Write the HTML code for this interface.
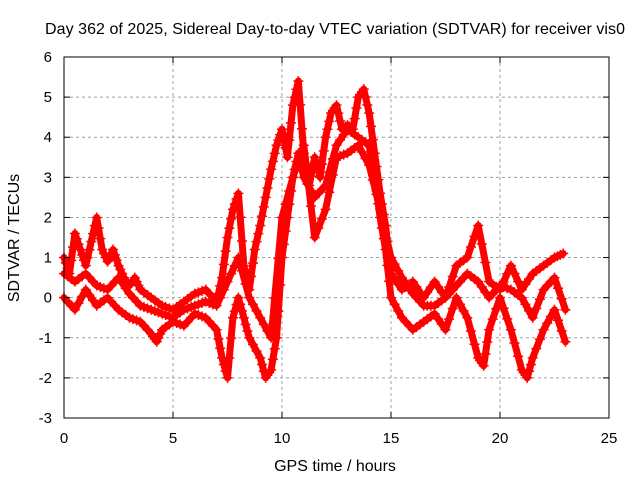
<!DOCTYPE html>
<html><head><meta charset="utf-8"><style>
body{margin:0;background:#fff}
svg text{font-family:"Liberation Sans",sans-serif;font-size:15px;fill:#000}
svg text.big{font-size:16px}
</style></head><body>
<svg id="chart" width="640" height="480">
<rect x="0" y="0" width="640" height="480" fill="#fff"/>
<text class="big" x="335" y="34" text-anchor="middle" textLength="580">Day 362 of 2025, Sidereal Day-to-day VTEC variation (SDTVAR) for receiver vis0</text>
<text class="big" x="335" y="471" text-anchor="middle">GPS time / hours</text>
<text class="big" transform="translate(19,238) rotate(-90)" text-anchor="middle">SDTVAR / TECUs</text>
<g id="grid"></g><g id="series"></g>
<rect x="64" y="57" width="545" height="361" fill="none" stroke="#000" stroke-width="1"/>
<g id="ticks"></g>
</svg>
<script>
const xTicks=[0,5,10,15,20,25];
const yTicks=[-3,-2,-1,0,1,2,3,4,5,6];
const s1t=[0,0.25,0.5,0.75,1,1.25,1.5,1.75,2,2.25,2.5,2.75,3,3.25,3.5,4,4.5,5,5.5,6,6.5,7,7.25,7.5,7.75,8,8.25,8.5,8.75,9,9.25,9.5,9.75,10,10.25,10.5,10.75,11,11.25,11.5,11.75,12,12.25,12.5,12.75,13,13.25,13.5,13.75,14,14.25,14.5,14.75,15,15.5,16,16.5,17,17.5,18,18.5,19,19.5,20,20.5,21,21.5,22,22.5,22.9];
const s1v=[1.0,0.6,1.6,1.2,0.8,1.4,2.0,1.2,0.9,1.2,0.8,0.5,0.3,0.5,0.2,0.0,-0.2,-0.3,-0.1,0.1,0.2,-0.1,0.5,1.5,2.2,2.6,0.8,0.2,1.2,1.8,2.5,3.2,3.8,4.2,3.5,4.8,5.4,3.6,2.8,3.5,3.0,4.0,4.6,4.8,4.2,4.3,4.2,5.0,5.2,4.6,3.6,2.6,1.8,0.6,0.2,0.4,0.0,0.4,0.0,0.8,1.0,1.8,0.4,0.2,0.8,0.2,0.6,0.8,1.0,1.1];
const s2t=[0,0.5,1,1.5,2,2.5,3,3.5,4,4.25,4.5,5,5.5,6,6.5,7,7.25,7.5,7.75,8,8.25,8.5,9,9.25,9.5,9.75,10,10.25,10.5,10.75,11,11.5,12,12.5,13,13.5,14,14.25,14.5,14.75,15,15.5,16,16.5,17,17.5,18,18.5,19,19.25,19.5,20,20.5,21,21.25,21.5,22,22.5,23];
const s2v=[0.0,-0.3,0.2,-0.2,0.0,-0.3,-0.5,-0.6,-0.9,-1.1,-0.8,-0.6,-0.7,-0.4,-0.5,-0.8,-1.5,-2.0,-0.5,0.0,-0.5,-1.0,-1.5,-2.0,-1.8,-1.0,1.0,2.0,3.0,3.6,3.0,2.5,2.8,3.8,4.2,4.0,3.8,3.0,2.0,1.2,0.0,-0.5,-0.8,-0.6,-0.4,-0.8,0.0,-0.5,-1.5,-1.7,-0.8,0.0,-0.8,-1.8,-2.0,-1.5,-0.8,-0.3,-1.1];
const s3t=[0,0.5,1,1.5,2,2.5,3,3.5,4,4.5,5,5.5,6,6.5,7,7.5,8,8.5,9,9.5,10,10.5,11,11.5,12,12.5,13,13.5,14,14.5,15,15.5,16,16.5,17,17.5,18,18.5,19,19.5,20,20.5,21,21.5,22,22.5,23];
const s3v=[0.6,0.4,0.6,0.3,0.2,0.5,0.1,-0.2,-0.3,-0.4,-0.5,-0.3,-0.2,-0.1,-0.2,0.4,1.0,0.0,-0.5,-1.0,2.0,3.0,3.8,1.5,2.2,3.5,3.6,3.8,3.3,2.2,1.0,0.5,0.1,-0.2,-0.2,0.0,0.3,0.6,0.4,0.0,0.3,0.2,0.0,-0.5,0.2,0.5,-0.3];
const X0=64,X1=609,Y0=418,Y1=57;
const xs=v=>X0+(v-0)/(25-0)*(X1-X0);
const ys=v=>Y0-(v-(-3))/(6-(-3))*(Y0-Y1);
const NS='http://www.w3.org/2000/svg';
function mk(tag,attrs,parent){const e=document.createElementNS(NS,tag);for(const k in attrs)e.setAttribute(k,attrs[k]);parent.appendChild(e);return e;}
const grid=document.getElementById('grid'),ticks=document.getElementById('ticks'),ser=document.getElementById('series');
xTicks.forEach(t=>{const x=xs(t);
 if(t>0&&t<25){const g=mk('line',{x1:x,x2:x,y1:Y1,y2:Y0,stroke:'#a0a0a0','stroke-dasharray':'3,3'},grid);
 
 }
 mk('line',{x1:x,x2:x,y1:Y0,y2:Y0-6,stroke:'#000'},ticks);mk('line',{x1:x,x2:x,y1:Y1,y2:Y1+6,stroke:'#000'},ticks);
 const l=mk('text',{x:x,y:Y0+25,'text-anchor':'middle'},ticks);l.textContent=t;
 
 });
yTicks.forEach(t=>{const y=ys(t);
 if(t>-3&&t<6){const g=mk('line',{x1:X0,x2:X1,y1:y,y2:y,stroke:'#a0a0a0','stroke-dasharray':'3,3'},grid);
 
 }
 mk('line',{x1:X0,x2:X0+6,y1:y,y2:y,stroke:'#000'},ticks);mk('line',{x1:X1,x2:X1-6,y1:y,y2:y,stroke:'#000'},ticks);
 const l=mk('text',{x:X0-12,y:y+5,'text-anchor':'end'},ticks);l.textContent=t;
 
 });
function draw(ts,vs,name){
 const g=mk('g',{},ser);
 
 
 const pts=ts.map((t,i)=>xs(t)+','+ys(vs[i])).join(' ');
 mk('polyline',{points:pts,fill:'none',stroke:'#f00','stroke-width':7,'stroke-linejoin':'round','stroke-linecap':'round'},g);
 let d='';
 for(let i=0;i<ts.length;i++){
  const x=xs(ts[i]),y=ys(vs[i]);d+=`M${x-5},${y}h10M${x},${y-5}v10`;
  if(i<ts.length-1){const x2=xs(ts[i+1]),y2=ys(vs[i+1]);
   for(const f of [0.33,0.66]){const mx=x+(x2-x)*f,my=y+(y2-y)*f;d+=`M${mx-5},${my}h10M${mx},${my-5}v10`;}}
 }
 mk('path',{d:d,stroke:'#f00','stroke-width':1.5,fill:'none'},g);
}
draw(s1t,s1v,'series-upper');
draw(s2t,s2v,'series-lower');
draw(s3t,s3v,'series-middle');
</script>
</body></html>
